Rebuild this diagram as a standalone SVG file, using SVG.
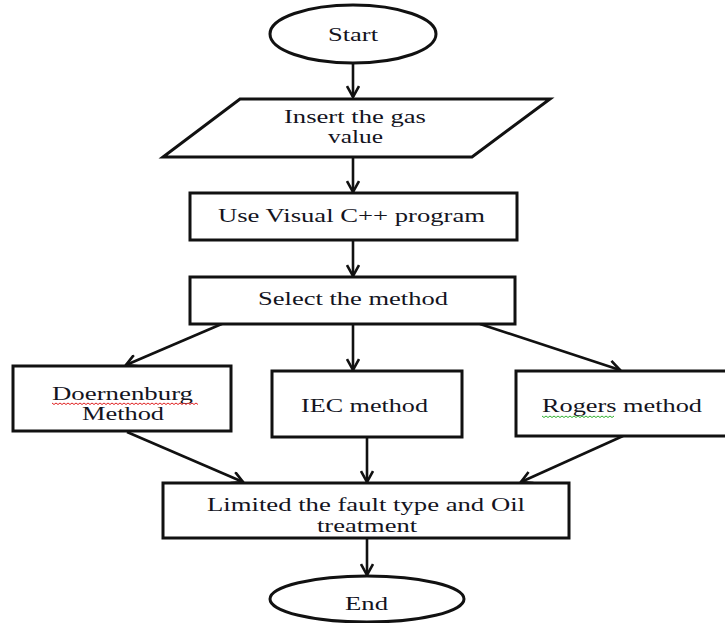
<svg xmlns="http://www.w3.org/2000/svg" width="725" height="623" viewBox="0 0 725 623">
<style>
.shape{fill:#fff;stroke:#111;stroke-width:3}
.lbl{font-family:"Liberation Serif","Times New Roman",serif;font-size:19px;fill:#14141e}
.conn line{stroke:#111;stroke-width:2.6;marker-end:url(#arr)}
.wave{fill:none;stroke-width:1}
</style>
<defs>
<marker id="arr" viewBox="0 0 14 14" refX="12" refY="7" markerWidth="14" markerHeight="14" markerUnits="userSpaceOnUse" orient="auto">
<path d="M1,1 L12,7 L1,13" fill="none" stroke="#111" stroke-width="2.6"/>
</marker>
</defs>
<rect width="725" height="623" fill="#fff"/>
<g id="connectors" class="conn">
<line x1="353" y1="63" x2="353" y2="97"/>
<line x1="353" y1="157" x2="353" y2="192"/>
<line x1="353" y1="240" x2="353" y2="276"/>
<line x1="231" y1="320" x2="126" y2="365"/>
<line x1="353" y1="324" x2="353" y2="370"/>
<line x1="480" y1="324" x2="620" y2="370"/>
<line x1="127" y1="432" x2="243" y2="482"/>
<line x1="367" y1="437" x2="367" y2="482"/>
<line x1="623" y1="436" x2="521" y2="482"/>
<line x1="367" y1="538" x2="367" y2="575"/>
</g>
<g id="start">
<ellipse class="shape" cx="353" cy="34" rx="83" ry="29"/>
<text class="lbl" x="328" y="41" textLength="50" lengthAdjust="spacingAndGlyphs">Start</text>
</g>
<g id="input">
<polygon class="shape" points="240,99 550,99 472,157 163,157"/>
<text class="lbl" x="284" y="123" textLength="142" lengthAdjust="spacingAndGlyphs">Insert the gas</text>
<text class="lbl" x="328" y="143" textLength="55" lengthAdjust="spacingAndGlyphs">value</text>
</g>
<g id="visual">
<rect class="shape" x="190" y="193" width="327" height="47"/>
<text class="lbl" x="218" y="222" textLength="267" lengthAdjust="spacingAndGlyphs">Use Visual  C++ program</text>
</g>
<g id="select">
<rect class="shape" x="190" y="277" width="325" height="47"/>
<text class="lbl" x="258" y="305" textLength="190" lengthAdjust="spacingAndGlyphs">Select the method</text>
</g>
<g id="doernenburg">
<rect class="shape" x="13" y="366" width="218" height="65"/>
<text class="lbl" x="52" y="400" textLength="141" lengthAdjust="spacingAndGlyphs">Doernenburg</text>
<path class="wave" stroke="#e02020" d="M52,403 l2,1.5 l2,-1.5 l2,1.5 l2,-1.5 l2,1.5 l2,-1.5 l2,1.5 l2,-1.5 l2,1.5 l2,-1.5 l2,1.5 l2,-1.5 l2,1.5 l2,-1.5 l2,1.5 l2,-1.5 l2,1.5 l2,-1.5 l2,1.5 l2,-1.5 l2,1.5 l2,-1.5 l2,1.5 l2,-1.5 l2,1.5 l2,-1.5 l2,1.5 l2,-1.5 l2,1.5 l2,-1.5 l2,1.5 l2,-1.5 l2,1.5 l2,-1.5 l2,1.5 l2,-1.5 l2,1.5 l2,-1.5 l2,1.5 l2,-1.5 l2,1.5 l2,-1.5 l2,1.5 l2,-1.5 l2,1.5 l2,-1.5 l2,1.5 l2,-1.5 l2,1.5 l2,-1.5 l2,1.5 l2,-1.5 l2,1.5 l2,-1.5 l2,1.5 l2,-1.5 l2,1.5 l2,-1.5 l2,1.5 l2,-1.5 l2,1.5 l2,-1.5 l2,1.5 l2,-1.5 l2,1.5 l2,-1.5 l2,1.5 l2,-1.5 l2,1.5 l2,-1.5 l2,1.5 l2,-1.5 l2,1.5"/>
<text class="lbl" x="82" y="420" textLength="82" lengthAdjust="spacingAndGlyphs">Method</text>
</g>
<g id="iec">
<rect class="shape" x="272" y="371" width="190" height="66"/>
<text class="lbl" x="301" y="412" textLength="127" lengthAdjust="spacingAndGlyphs">IEC method</text>
</g>
<g id="rogers">
<rect class="shape" x="516" y="371" width="215" height="65"/>
<text class="lbl" x="542" y="412" textLength="160" lengthAdjust="spacingAndGlyphs">Rogers method</text>
<path class="wave" stroke="#30b030" d="M542,416 l2,1.5 l2,-1.5 l2,1.5 l2,-1.5 l2,1.5 l2,-1.5 l2,1.5 l2,-1.5 l2,1.5 l2,-1.5 l2,1.5 l2,-1.5 l2,1.5 l2,-1.5 l2,1.5 l2,-1.5 l2,1.5 l2,-1.5 l2,1.5 l2,-1.5 l2,1.5 l2,-1.5 l2,1.5 l2,-1.5 l2,1.5 l2,-1.5 l2,1.5 l2,-1.5 l2,1.5 l2,-1.5 l2,1.5 l2,-1.5 l2,1.5 l2,-1.5 l2,1.5 l2,-1.5"/>
</g>
<g id="limited">
<rect class="shape" x="163" y="483" width="406" height="55"/>
<text class="lbl" x="207" y="511" textLength="318" lengthAdjust="spacingAndGlyphs">Limited the fault type and Oil</text>
<text class="lbl" x="317" y="532" textLength="100" lengthAdjust="spacingAndGlyphs">treatment</text>
</g>
<g id="end">
<ellipse class="shape" cx="367" cy="599" rx="97" ry="23"/>
<text class="lbl" x="345" y="610" textLength="43" lengthAdjust="spacingAndGlyphs">End</text>
</g>
</svg>
